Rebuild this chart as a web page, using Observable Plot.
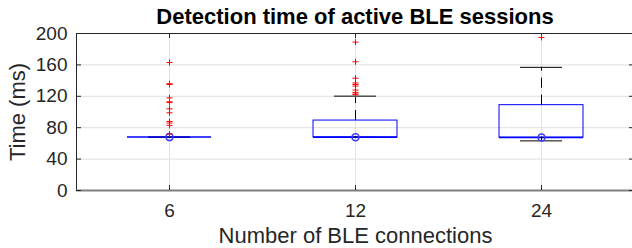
<!DOCTYPE html>
<html><head><meta charset="utf-8">
<script src="https://cdn.jsdelivr.net/npm/d3@7"></script>
<script src="https://cdn.jsdelivr.net/npm/@observablehq/plot@0.6"></script>
<style>
body{margin:0;background:#fff;font-family:"Liberation Sans",Arial,sans-serif;}
#wrap{width:632px;height:248px;overflow:hidden;position:relative;background:#fff}
#title{box-sizing:border-box;width:632px;height:29px;padding-left:78px;padding-top:6px;text-align:center;font-weight:bold;font-size:22px;line-height:1;color:#000;white-space:nowrap}
#chart svg{display:block}
</style></head><body>
<div id="wrap"><div id="title">Detection time of active BLE sessions</div><div id="chart"></div></div>
<script>
const categories = ["6", "12", "24"];
const q1 = [68, 67.8, 67.4];
const median = [68, 67.8, 67.4];
const q3 = [68, 89.1, 108.7];
const whiskerLow = [68, 67.8, 63.2];
const whiskerHigh = [68, 120.2, 156.9];
const outliers6 = [163, 136, 135, 118, 113, 112, 104, 99, 88, 86, 83, 72];
const outliers12 = [189, 164, 143, 137, 135, 133, 128, 125, 123, 122];
const outliers24 = [195];
const yTicks = [0, 40, 80, 120, 160, 200];
const gridTicks = [40, 80, 120, 160];
const xLabel = "Number of BLE connections";
const yLabel = "Time (ms)";

const boxes = categories.map((c, i) => ({cat: c, q1: q1[i], median: median[i], q3: q3[i], lo: whiskerLow[i], hi: whiskerHigh[i]}));
const outliers = [
  ...outliers6.map(v => ({cat: "6", v})),
  ...outliers12.map(v => ({cat: "12", v})),
  ...outliers24.map(v => ({cat: "24", v}))
];

const chart = Plot.plot({
  width: 632, height: 219,
  marginTop: 4, marginBottom: 58, marginLeft: 76, marginRight: -2,
  style: {fontFamily: "'Liberation Sans', Arial, sans-serif", fontSize: "19px", color: "#262626", background: "white", overflow: "visible"},
  x: {type: "band", domain: categories, paddingInner: 0.548, paddingOuter: 0.274, label: null},
  y: {domain: [0, 200], label: null},
  marks: [
    Plot.gridY(gridTicks, {stroke: "#dfdfdf", strokeOpacity: 1}),
    Plot.gridX(categories, {stroke: "#e2e2e2", strokeOpacity: 1}),
    Plot.frame({stroke: "#262626"}),
    Plot.ruleY([0], {stroke: "#7f7f7f", strokeWidth: 2}),
    Plot.tickX(categories, {x: d => d, insetTop: 152, stroke: "#262626"}),
    Plot.tickX(categories, {x: d => d, insetBottom: 152, stroke: "#262626"}),
    Plot.tickY(yTicks, {y: d => d, insetRight: 553, stroke: "#262626"}),
    Plot.tickY(yTicks, {y: d => d, insetLeft: 553, stroke: "#262626"}),
    Plot.axisY(yTicks, {tickSize: 0, tickPadding: 9, label: null}),
    Plot.axisX(categories, {tickSize: 0, tickPadding: 13, label: null}),
    Plot.ruleX(boxes, {x: "cat", y1: "q3", y2: "hi", stroke: "black", strokeDasharray: "10,7"}),
    Plot.ruleX(boxes, {x: "cat", y1: "q1", y2: "lo", stroke: "black", strokeDasharray: "10,7"}),
    Plot.tickY(boxes, {x: "cat", y: "hi", insetLeft: 21, insetRight: 21, stroke: "black"}),
    Plot.tickY(boxes, {x: "cat", y: "lo", insetLeft: 21, insetRight: 21, stroke: "black"}),
    Plot.barY(boxes, {x: "cat", y1: "q1", y2: "q3", fill: "none", stroke: "blue"}),
    Plot.tickY(boxes, {x: "cat", y: "median", stroke: "blue", strokeWidth: 1.5}),
    Plot.dot(boxes, {x: "cat", y: "median", r: 3.5, stroke: "#3a3aff", fill: "none"}),
    Plot.dot(boxes, {x: "cat", y: "median", r: 1, fill: "black"}),
    Plot.dot(outliers, {x: "cat", y: "v", symbol: "plus", r: 2.1, stroke: "red", strokeWidth: 1}),
    Plot.text([xLabel], {frameAnchor: "bottom", lineAnchor: "middle", dy: 45, text: d => d, fontSize: 22}),
    Plot.text([yLabel], {frameAnchor: "left", textAnchor: "middle", dx: -59, rotate: -90, text: d => d, fontSize: 22})
  ]
});
document.getElementById("chart").appendChild(chart);
</script>
</body></html>
